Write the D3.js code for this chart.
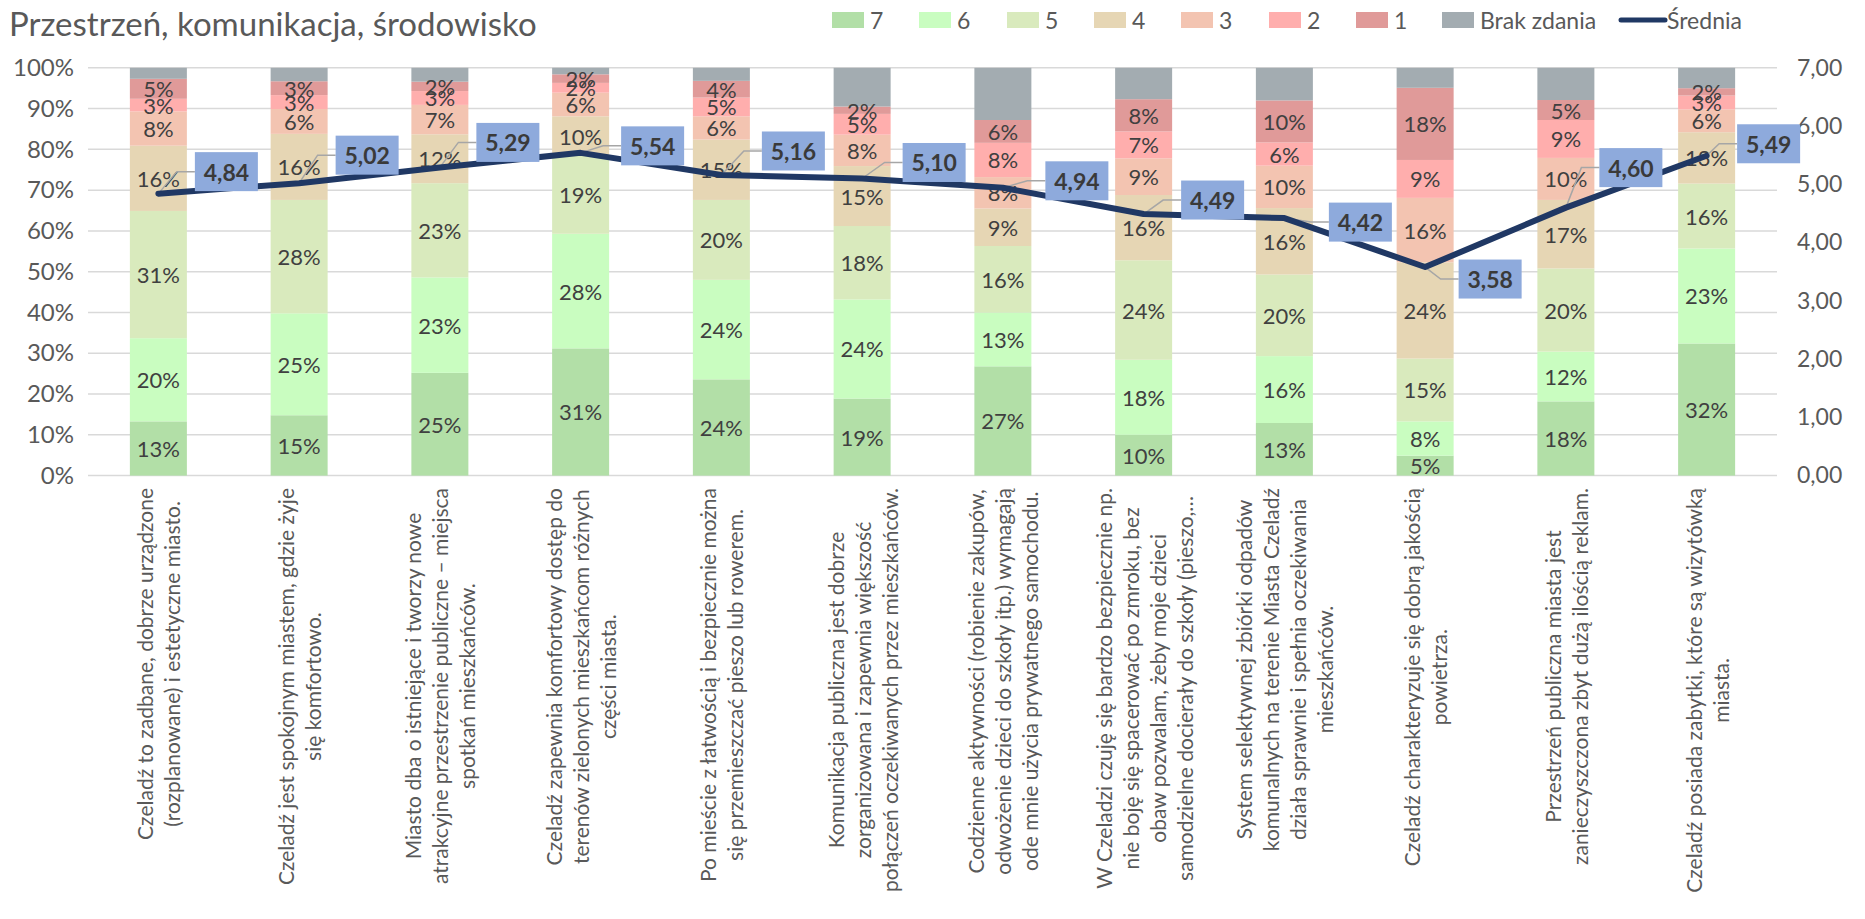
<!DOCTYPE html>
<html>
<head>
<meta charset="utf-8">
<script src="https://cdn.jsdelivr.net/npm/d3@7"></script>
<style>
  body { margin: 0; background: white; }
  svg { display: block; font-family: Lato, "Open Sans", sans-serif; }
</style>
</head>
<body>
<svg id="chart" width="1865" height="919"></svg>
<script>
// category labels, already wrapped the way the picture shows them
const categories = [
    ["Czeladź to zadbane, dobrze urządzone", "(rozplanowane) i estetyczne miasto."],
    ["Czeladź jest spokojnym miastem, gdzie żyje", "się komfortowo."],
    ["Miasto dba o istniejące i tworzy nowe", "atrakcyjne przestrzenie publiczne – miejsca", "spotkań mieszkańców."],
    ["Czeladź zapewnia komfortowy dostęp do", "terenów zielonych mieszkańcom różnych", "części miasta."],
    ["Po mieście z łatwością i bezpiecznie można", "się przemieszczać pieszo lub rowerem."],
    ["Komunikacja publiczna jest dobrze", "zorganizowana i zapewnia większość", "połączeń oczekiwanych przez mieszkańców."],
    ["Codzienne aktywności (robienie zakupów,", "odwożenie dzieci do szkoły itp.) wymagają", "ode mnie użycia prywatnego samochodu."],
    ["W Czeladzi czuję się bardzo bezpiecznie np.", "nie boję się spacerować po zmroku, bez", "obaw pozwalam, żeby moje dzieci", "samodzielne docierały do szkoły (pieszo,…"],
    ["System selektywnej zbiórki odpadów", "komunalnych na terenie Miasta Czeladź", "działa sprawnie i spełnia oczekiwania", "mieszkańców."],
    ["Czeladź charakteryzuje się dobrą jakością", "powietrza."],
    ["Przestrzeń publiczna miasta jest", "zanieczyszczona zbyt dużą ilością reklam."],
    ["Czeladź posiada zabytki, które są wizytówką", "miasta."]
];

// shares in percent
const s7   = [13.3, 14.8, 25.2, 31.2, 23.6, 18.9, 26.8, 10.0, 12.9,  4.9, 18.2, 32.4];
const s6   = [20.4, 25.0, 23.4, 28.1, 24.4, 24.3, 13.2, 18.4, 16.4,  8.4, 12.2, 23.3];
const s5   = [31.2, 27.8, 23.1, 19.1, 19.6, 18.0, 16.3, 24.4, 20.0, 15.4, 20.4, 15.9];
const s4   = [16.0, 16.2, 12.0,  9.7, 14.8, 14.7,  9.2, 16.0, 16.3, 23.6, 16.8, 12.6];
const s3   = [ 8.4,  6.1,  7.2,  5.8,  5.7,  7.7,  7.7,  9.0, 10.4, 15.8, 10.3,  5.6];
const s2   = [ 3.1,  3.4,  3.4,  2.4,  4.6,  5.1,  8.4,  6.6,  5.7,  9.3,  9.3,  3.4];
const s1   = [ 4.9,  3.4,  2.3,  2.1,  4.1,  1.8,  5.6,  7.9, 10.3, 17.7,  4.9,  1.8];
const brak = [ 2.7,  3.3,  3.4,  1.6,  3.2,  9.5, 12.8,  7.7,  8.0,  4.9,  7.9,  5.0];

// mean score (right axis)
const srednia = [4.84, 5.02, 5.29, 5.54, 5.16, 5.10, 4.94, 4.49, 4.42, 3.58, 4.60, 5.49];

const seriesNames = ["7", "6", "5", "4", "3", "2", "1", "Brak zdania"];
const seriesColors = ["#b2dfa7", "#c9fdc0", "#d9eabd", "#e6d6b4", "#f3c4b1", "#ffaead", "#e09a99", "#a3acb1"];
const leftTicks = [0, 10, 20, 30, 40, 50, 60, 70, 80, 90, 100];
const rightTicks = [0, 1, 2, 3, 4, 5, 6, 7];

// where Excel's dragged labels of the mean sit, relative to the point (px)
const labelNudge = [[68, 22], [68, 28], [68, 25], [72, 7], [72, 24], [72, 16],
                    [74, 7], [69, 14], [76, -4], [65, -12], [65, 40], [62, 12]];

const svg = d3.select("#chart");
const margin = { left: 88, right: 1777, top: 67.8, bottom: 475.6 };

const x = d3.scaleBand()
    .domain(d3.range(categories.length))
    .range([margin.left, margin.right])
    .paddingInner(0.595)
    .paddingOuter(0.2975);

const y = d3.scaleLinear().domain([0, 100]).range([margin.bottom, margin.top]);
const y2 = d3.scaleLinear().domain([0, 7]).range([margin.bottom, margin.top]);

const fmtPct = d => d3.format(".0f")(d) + "%";
const fmtDec = d => d3.format(".2f")(d).replace(".", ",");

// title
svg.append("text")
    .attr("x", 9)
    .attr("y", 36)
    .attr("font-size", 33)
    .attr("fill", "#595959")
    .text("Przestrzeń, komunikacja, środowisko");

// gridlines
svg.append("g")
    .selectAll("line")
    .data(leftTicks)
    .enter().append("line")
    .attr("x1", margin.left)
    .attr("x2", margin.right)
    .attr("y1", d => y(d))
    .attr("y2", d => y(d))
    .attr("stroke", "#d9d9d9")
    .attr("stroke-width", 1.5);

// left axis
const leftAxis = svg.append("g")
    .attr("transform", `translate(${margin.left},0)`)
    .call(d3.axisLeft(y).tickValues(leftTicks).tickFormat(d => d + "%").tickSize(0).tickPadding(14));
leftAxis.select(".domain").remove();
leftAxis.selectAll("text").attr("font-size", 24).attr("fill", "#595959").attr("font-family", "Lato");

// right axis
const rightAxis = svg.append("g")
    .attr("transform", `translate(${margin.right},0)`)
    .call(d3.axisRight(y2).tickValues(rightTicks).tickFormat(fmtDec).tickSize(0).tickPadding(20));
rightAxis.select(".domain").remove();
rightAxis.selectAll("text").attr("font-size", 23).attr("fill", "#595959").attr("font-family", "Lato");

// stacked bars
const seriesValues = [s7, s6, s5, s4, s3, s2, s1, brak];
const rows = categories.map((c, i) => {
    const row = { i: i };
    seriesNames.forEach((n, k) => { row[n] = seriesValues[k][i]; });
    return row;
});
const stacked = d3.stack().keys(seriesNames)(rows);

const layers = svg.append("g")
    .selectAll("g")
    .data(stacked)
    .enter().append("g")
    .attr("fill", (d, k) => seriesColors[k]);

layers.selectAll("rect")
    .data(d => d)
    .enter().append("rect")
    .attr("x", d => x(d.data.i))
    .attr("width", x.bandwidth())
    .attr("y", d => y(d[1]))
    .attr("height", d => y(d[0]) - y(d[1]));

// percentage labels (all answers except "Brak zdania")
svg.append("g")
    .selectAll("g")
    .data(stacked.slice(0, 7))
    .enter().append("g")
    .selectAll("text")
    .data(d => d)
    .enter().append("text")
    .attr("x", d => x(d.data.i) + x.bandwidth() / 2)
    .attr("y", d => y((d[0] + d[1]) / 2))
    .attr("text-anchor", "middle")
    .attr("dominant-baseline", "central")
    .attr("font-size", 22)
    .attr("fill", "#404040")
    .text(d => fmtPct(d[1] - d[0]));

// mean line
const cx = i => x(i) + x.bandwidth() / 2;
const line = d3.line()
    .x((d, i) => cx(i))
    .y(d => y2(d));

const boxW = 63, boxH = 39;
const boxes = srednia.map((v, i) => {
    const px = cx(i), py = y2(v);
    const bx = px + labelNudge[i][0], by = py - labelNudge[i][1];
    return { v: v, px: px, py: py, bx: bx, by: by };
});

// leader lines
svg.append("g")
    .selectAll("path")
    .data(boxes)
    .enter().append("path")
    .attr("d", d => {
        const left = d.bx - boxW / 2;
        return `M${d.px},${d.py}L${left - 18},${d.by}L${left},${d.by}`;
    })
    .attr("fill", "none")
    .attr("stroke", "#a6a6a6")
    .attr("stroke-width", 1.5);

svg.append("path")
    .datum(srednia)
    .attr("d", line)
    .attr("fill", "none")
    .attr("stroke", "#203864")
    .attr("stroke-width", 6)
    .attr("stroke-linejoin", "round")
    .attr("stroke-linecap", "round");

const boxG = svg.append("g")
    .selectAll("g")
    .data(boxes)
    .enter().append("g")
    .attr("transform", d => `translate(${d.bx},${d.by})`);

boxG.append("rect")
    .attr("x", -boxW / 2)
    .attr("y", -boxH / 2)
    .attr("width", boxW)
    .attr("height", boxH)
    .attr("fill", "#8eaadc");

boxG.append("text")
    .attr("text-anchor", "middle")
    .attr("dominant-baseline", "central")
    .attr("font-size", 23)
    .attr("font-weight", "bold")
    .attr("fill", "#3a3a3a")
    .text(d => fmtDec(d.v));

// category labels, rotated, lines centred, block hanging from the axis
const catTop = 488, pitch = 27;
const cats = svg.append("g")
    .selectAll("g")
    .data(categories)
    .enter().append("g")
    .attr("transform", (d, i) => `translate(${cx(i)},${catTop}) rotate(-90)`);

cats.each(function(lines) {
    const g = d3.select(this);
    const n = lines.length;
    const texts = g.selectAll("text")
        .data(lines)
        .enter().append("text")
        .attr("y", (d, k) => (k - (n - 1) / 2) * pitch)
        .attr("dominant-baseline", "central")
        .attr("text-anchor", "middle")
        .attr("font-size", 21)
        .attr("fill", "#595959")
        .text(d => d);
    let maxLen = 0;
    texts.each(function() { maxLen = Math.max(maxLen, this.getComputedTextLength()); });
    texts.attr("x", -maxLen / 2);
});

// legend
const legendItems = seriesNames.map((n, k) => ({ name: n, color: seriesColors[k] }));
const legendX = [832, 919, 1007, 1094, 1181, 1269, 1356, 1442];
const legend = svg.append("g")
    .selectAll("g")
    .data(legendItems)
    .enter().append("g")
    .attr("transform", (d, k) => `translate(${legendX[k]},20)`);

legend.append("rect")
    .attr("x", 0)
    .attr("y", -8)
    .attr("width", 32)
    .attr("height", 16)
    .attr("fill", d => d.color);

legend.append("text")
    .attr("x", 38)
    .attr("dominant-baseline", "central")
    .attr("font-size", 23)
    .attr("fill", "#595959")
    .text(d => d.name);

const meanLegend = svg.append("g").attr("transform", "translate(1621,20)");
meanLegend.append("line")
    .attr("x1", 0).attr("x2", 44)
    .attr("stroke", "#203864")
    .attr("stroke-width", 5)
    .attr("stroke-linecap", "round");
meanLegend.append("text")
    .attr("x", 46)
    .attr("dominant-baseline", "central")
    .attr("font-size", 23)
    .attr("fill", "#595959")
    .text("Średnia");
</script>
</body>
</html>
